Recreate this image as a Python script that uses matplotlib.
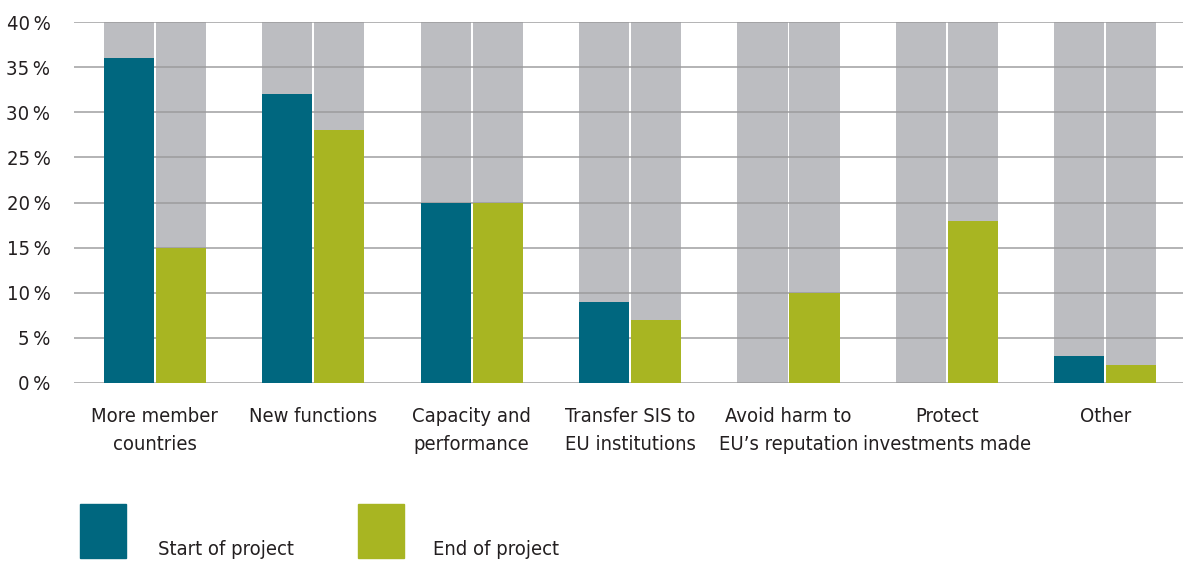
import matplotlib
matplotlib.use("Agg")
import matplotlib.pyplot as plt
import numpy as np
from matplotlib.patches import Rectangle

plt.rcParams['font.family'] = ['DejaVu Sans']
plt.rcParams['font.stretch'] = 'condensed'

categories = ["More member\ncountries", "New functions", "Capacity and\nperformance",
              "Transfer SIS to\nEU institutions", "Avoid harm to\nEU\u2019s reputation",
              "Protect\ninvestments made", "Other"]
start_vals = [36, 32, 20, 9, 0, 0, 3]
end_vals = [15, 28, 20, 7, 10, 18, 2]
yticks = [0, 5, 10, 15, 20, 25, 30, 35, 40]
series_names = ["Start of project", "End of project"]

c_start = "#00677F"
c_end = "#A8B522"
c_bg = "#BCBDC1"
c_grid = "#9A9A9C"
c_txt = "#231F20"

W, H = 1183, 561
fig = plt.figure(figsize=(W / 100, H / 100), dpi=100)
ax = fig.add_axes([74 / W, (H - 383) / H, (1183 - 74) / W, (383 - 22) / H])

x = np.arange(len(categories))
bw = 0.316
off = 0.164
top = max(yticks)
ax.bar(x - off, [top] * len(x), width=bw, color=c_bg, zorder=1)
ax.bar(x + off, [top] * len(x), width=bw, color=c_bg, zorder=1)
for y in yticks:
    ax.axhline(y, color=c_grid, lw=1.4, zorder=2, alpha=0.75)
ax.bar(x - off, start_vals, width=bw, color=c_start, zorder=3)
ax.bar(x + off, end_vals, width=bw, color=c_end, zorder=3)

fs = 14.5
ax.set_xlim(-0.51, 6.49)
ax.set_ylim(0, top)
ax.set_yticks(yticks)
ax.set_yticklabels([f"{v}\u2009%" for v in yticks], fontsize=fs, color=c_txt, fontstretch='condensed')
ax.set_xticks(x)
ax.set_xticklabels(categories, fontsize=fs, color=c_txt, linespacing=1.6, va="top",
                   fontstretch='condensed')
ax.tick_params(axis="y", length=0, pad=17)
ax.tick_params(axis="x", length=0, pad=17)
for s in ax.spines.values():
    s.set_visible(False)

# legend
fig.patches.append(Rectangle((80 / W, (H - 558) / H), 46 / W, 54 / H,
                             transform=fig.transFigure, color=c_start, figure=fig))
fig.patches.append(Rectangle((358 / W, (H - 558) / H), 46 / W, 54 / H,
                             transform=fig.transFigure, color=c_end, figure=fig))
fig.text(158 / W, (H - 555) / H, series_names[0], fontsize=fs, color=c_txt,
         va="baseline", fontstretch='condensed')
fig.text(433 / W, (H - 555) / H, series_names[1], fontsize=fs, color=c_txt,
         va="baseline", fontstretch='condensed')

fig.savefig("out.png", dpi=100)
